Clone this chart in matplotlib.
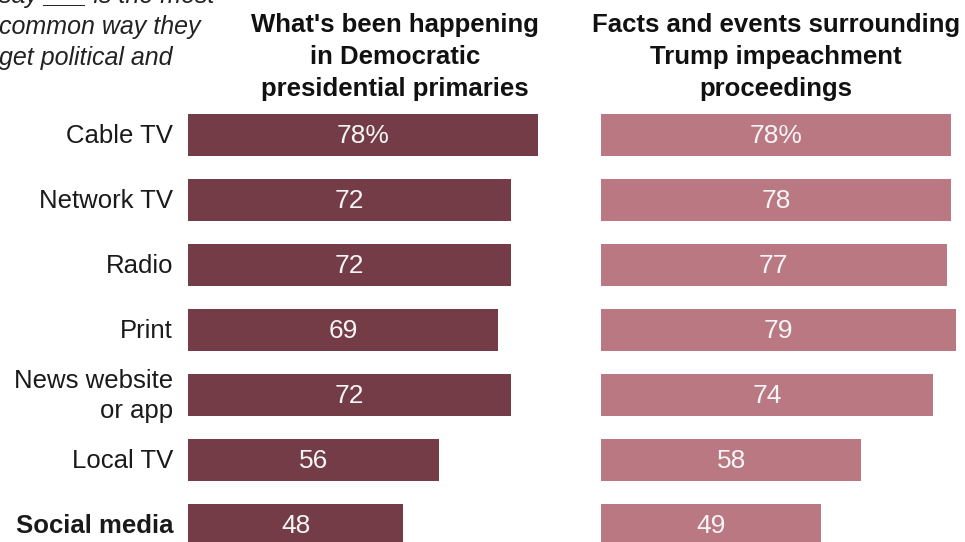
import matplotlib.pyplot as plt

# dati: quota (%) per fonte principale di notizie
fonti = ["Cable TV", "Network TV", "Radio", "Print", "News website\nor app", "Local TV", "Social media"]
primarie = [78, 72, 72, 69, 72, 56, 48]
impeachment = [78, 78, 77, 79, 74, 58, 49]

titolo_primarie = "What's been happening\nin Democratic\npresidential primaries"
titolo_impeachment = "Facts and events surrounding\nTrump impeachment\nproceedings"
nota = "say ___ is the most\ncommon way they\nget political and"

colore_scuro = "#733C46"
colore_chiaro = "#B97882"
font = "Liberation Sans"

W, H = 965, 542
fig = plt.figure(figsize=(W / 100, H / 100), dpi=100)


def px(x, y):
    # da pixel (origine in alto a sinistra) a frazione di figura
    return x / W, 1 - y / H


# assi in pixel: 65 px per riga, prima riga centrata a y=135
y_top = -135 / 65
y_bot = (H - 135) / 65


def pannello(x0, valori, colore):
    ax = fig.add_axes([x0 / W, 0, 359 / W, 1])
    pos = list(range(len(valori)))
    barre = ax.barh(pos, valori, height=0.66, color=colore)
    ax.set_xlim(0, 80)
    ax.set_ylim(y_bot, y_top)
    ax.axis("off")
    for i, (b, v) in enumerate(zip(barre, valori)):
        testo = f"{v}%" if i == 0 else f"{v}"
        ax.text(v / 2, i + 0.02, testo, ha="center", va="center", color="#F5F5F5",
                fontsize=19, family=font)
    return ax


ax1 = pannello(188, primarie, colore_scuro)
ax2 = pannello(601, impeachment, colore_chiaro)

# etichette delle categorie a sinistra
for i, nome in enumerate(fonti):
    peso = "bold" if nome == "Social media" else "normal"
    ax1.text(-15 / 4.4875, i + 0.02, nome, ha="right", va="center", fontsize=18.5,
             family=font, fontweight=peso, color="#1a1a1a", linespacing=1.3)

# intestazioni delle colonne
fig.text(*px(395, 57), titolo_primarie, ha="center", va="center", fontsize=18.5,
         family=font, fontweight="bold", color="#111111", linespacing=1.4)
fig.text(*px(776, 57), titolo_impeachment, ha="center", va="center", fontsize=18.5,
         family=font, fontweight="bold", color="#111111", linespacing=1.4)

# nota in corsivo (tagliata in alto)
fig.text(*px(-1, 27), nota, ha="left", va="center", fontsize=18, family=font,
         style="italic", color="#222222", linespacing=1.37)

fig.savefig("out.png", dpi=100)
